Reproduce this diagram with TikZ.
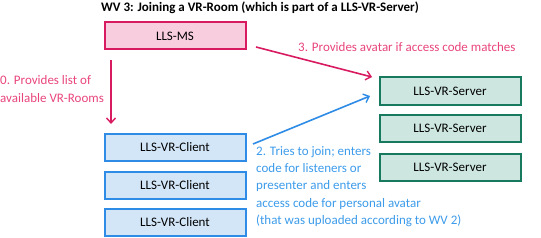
\documentclass[tikz,border=0pt]{standalone}
\usepackage{fontspec}
\setmainfont{Carlito}
\usetikzlibrary{arrows.meta}
\definecolor{pinkbd}{HTML}{D81B60}
\definecolor{pinkfill}{HTML}{F8CDDD}
\definecolor{pinktext}{HTML}{E8457B}
\definecolor{tealbd}{HTML}{177A5E}
\definecolor{tealfill}{HTML}{CDE7E0}
\definecolor{bluebd}{HTML}{2E8BE6}
\definecolor{bluefill}{HTML}{D3E6F8}
\definecolor{bluetext}{HTML}{3C9BEA}
\begin{document}
\begin{tikzpicture}[x=1pt,y=-1pt,
  box/.style={draw, line width=2pt, minimum width=141pt, minimum height=27pt, inner sep=0pt, font=\fontsize{13}{15}\selectfont},
  msbox/.style={box, draw=pinkbd, fill=pinkfill},
  srvbox/.style={box, draw=tealbd, fill=tealfill},
  clbox/.style={box, draw=bluebd, fill=bluefill},
  arr/.style={line width=1.6pt, -{Straight Barb[length=5pt,width=9pt,line width=1.4pt]}},
  lbl/.style={font=\fontsize{13}{17.4}\selectfont, inner sep=0pt, align=left}
]
\useasboundingbox (0,0) rectangle (541,238);
\node[font=\bfseries\fontsize{13}{15}\selectfont] (title) at (260,8) {WV 3: Joining a VR-Room (which is part of a LLS-VR-Server)};
\node[msbox] (ms) at (175,36) {LLS-MS};
\node[srvbox] (s1) at (450,91) {LLS-VR-Server};
\node[srvbox] (s2) at (450,128.5) {LLS-VR-Server};
\node[srvbox] (s3) at (450,167) {LLS-VR-Server};
\node[clbox] (c1) at (175,147.5) {LLS-VR-Client};
\node[clbox] (c2) at (175,185) {LLS-VR-Client};
\node[clbox] (c3) at (175,222.5) {LLS-VR-Client};
\coordinate (a0s) at (111,60);
\coordinate (a0e) at (111,124);
\coordinate (a3s) at (256,47);
\coordinate (a3e) at (372,77);
\coordinate (a2s) at (253,144);
\coordinate (a2e) at (370,96);
\draw[arr, pinkbd] (a0s) -- (a0e);
\draw[arr, pinkbd] (a3s) -- (a3e);
\draw[arr, bluebd] (a2s) -- (a2e);
\node[lbl, text=pinktext, anchor=west] (l3) at (298,47) {3. Provides avatar if access code matches};
\node[lbl, text=pinktext, anchor=north west] (l0) at (0,75.5) {0. Provides list of\\available VR-Rooms};
\node[lbl, text=bluetext, anchor=north west] (l2) at (256,146) {2. Tries to join; enters\\code for listeners or\\presenter and enters\\access code for personal avatar\\(that was uploaded according to WV 2)};
\end{tikzpicture}
\end{document}
